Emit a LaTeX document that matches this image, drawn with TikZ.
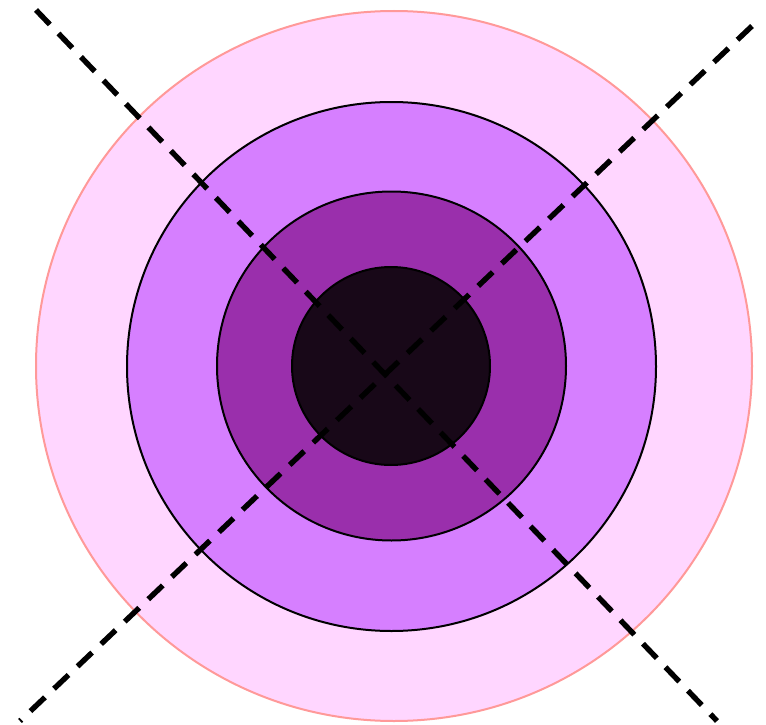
\documentclass[tikz,border=0pt]{standalone}
\usepackage{tikz}
\definecolor{ring1}{HTML}{FFD6FF}
\definecolor{ring1edge}{HTML}{FF9999}
\definecolor{ring2}{HTML}{D67FFF}
\definecolor{ring3}{HTML}{9A2FAC}
\definecolor{ring4}{HTML}{180818}
\tikzset{
  ringline/.style={draw=black, line width=2pt},
  cutline/.style={draw=black, line width=5.4pt, dash pattern=on 20pt off 12.5pt}
}
\begin{document}
\begin{tikzpicture}[x=1pt,y=-1pt]
\useasboundingbox (0,0) rectangle (766,725);
\fill[white] (0,0) rectangle (766,725);
\filldraw[fill=ring1, draw=ring1edge, line width=2pt] (394,366) ellipse [x radius=358, y radius=355];
\filldraw[fill=ring2, ringline] (391.5,366.5) circle [radius=264.5];
\filldraw[fill=ring3, ringline] (391.5,366) circle [radius=174.5];
\filldraw[fill=ring4, ringline] (391,366) circle [radius=99];
\coordinate (a1) at (36,10);
\coordinate (a2) at (717,721);
\coordinate (b1) at (752,26);
\coordinate (b2) at (20,721);
\draw[cutline] (a1) -- (a2);
\draw[cutline] (b1) -- (b2);
\end{tikzpicture}
\end{document}
